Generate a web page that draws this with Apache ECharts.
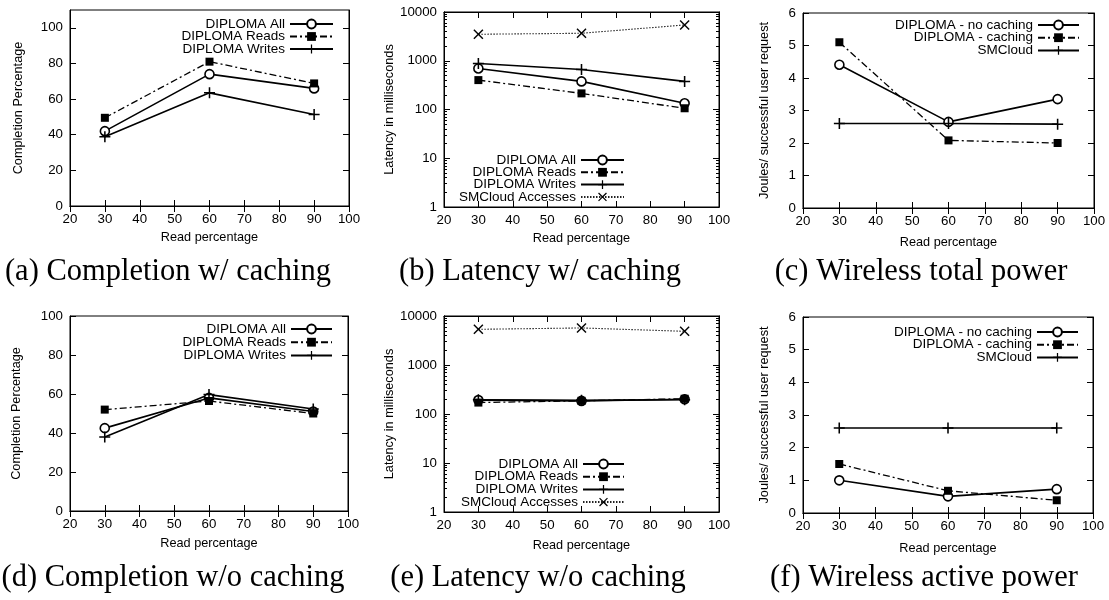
<!DOCTYPE html>
<html>
<head>
<meta charset="utf-8">
<script src="https://cdn.jsdelivr.net/npm/echarts@6/dist/echarts.min.js"></script>
<style>html,body{margin:0;padding:0;background:#fff}#c{width:1109px;height:600px}</style>
</head>
<body>
<div id="c"></div>
<script>
// ---- data ----
const readPct = [30, 60, 90];
const xTicks = [20, 30, 40, 50, 60, 70, 80, 90, 100];
const completionTicks = [0, 20, 40, 60, 80, 100];
const latencyTicks = [1, 10, 100, 1000, 10000];
const jouleTicks = [0, 1, 2, 3, 4, 5, 6];

// (a) Completion w/ caching
const aAll = [42, 74, 66];
const aReads = [49.5, 81, 68.8];
const aWrites = [38.9, 63.5, 51.4];
// (b) Latency w/ caching
const bAll = [695, 377, 134];
const bReads = [401, 214, 106];
const bWrites = [879, 662, 377];
const bSMCloud = [3494, 3664, 5420];
// (c) Wireless total power
const cNoCache = [4.41, 2.65, 3.35];
const cCache = [5.1, 2.08, 2.0];
const cSMCloud = [2.6, 2.6, 2.58];
// (d) Completion w/o caching
const dAll = [42.5, 58, 51];
const dReads = [52, 56.4, 50];
const dWrites = [38, 59.7, 52.3];
// (e) Latency w/o caching
const eAll = [192, 185, 200];
const eReads = [171, 186, 205];
const eWrites = [196, 190, 195];
const eSMCloud = [5350, 5700, 4870];
// (f) Wireless active power
const fNoCache = [1.0, 0.51, 0.73];
const fCache = [1.5, 0.68, 0.39];
const fSMCloud = [2.6, 2.6, 2.6];

const captions = ['(a) Completion w/ caching', '(b) Latency w/ caching', '(c) Wireless total power',
                  '(d) Completion w/o caching', '(e) Latency w/o caching', '(f) Wireless active power'];

// minor ticks for log axes (axis decoration)
const logMinor = [];
[1, 10, 100, 1000].forEach(d => { for (let k = 2; k <= 9; k++) logMinor.push(d * k); });

// ---- layout ----
const F = 'Liberation Sans, Arial, Helvetica, sans-serif';
const grids = [
  {left: 70, top: 10, width: 279, height: 196},
  {left: 444, top: 12, width: 275, height: 195},
  {left: 803, top: 13, width: 291, height: 195},
  {left: 70, top: 316, width: 278, height: 195},
  {left: 444, top: 316, width: 275, height: 196},
  {left: 803, top: 317, width: 290, height: 196}
];
const yNames = ['Completion Percentage', 'Latency in milliseconds', 'Joules/ successful user request',
                'Completion Percentage', 'Latency in milliseconds', 'Joules/ successful user request'];
const yGaps = [45, 36, 32, 47, 35, 32];
const xGaps = [25, 25, 28, 26, 27, 29];
const yKinds = ['comp', 'log', 'joule', 'comp', 'log', 'joule'];

const xAxes = [], yAxes = [], primaryY = [];
const lineC = '#000';
grids.forEach((g, i) => {
  xAxes.push({
    type: 'value', gridIndex: i, min: 20, max: 100, interval: 10, position: 'bottom',
    name: 'Read percentage', nameLocation: 'middle', nameGap: xGaps[i],
    nameTextStyle: {fontFamily: F, fontSize: 12.7, color: '#000'},
    axisLine: {show: true, lineStyle: {color: lineC, width: 1}},
    axisTick: {show: true, inside: true, length: 6, lineStyle: {color: lineC}},
    axisLabel: {show: true, margin: 7, fontFamily: F, fontSize: 13.3, color: '#000', customValues: xTicks},
    splitLine: {show: false}
  });
  xAxes.push({
    type: 'value', gridIndex: i, min: 20, max: 100, interval: 10, position: 'top',
    axisLine: {show: true, lineStyle: {color: lineC, width: 1}},
    axisTick: {show: true, inside: true, length: 6, lineStyle: {color: lineC}},
    axisLabel: {show: false}, splitLine: {show: false}
  });
  const k = yKinds[i];
  let base;
  if (k === 'comp') base = {type: 'value', min: 0, max: i === 0 ? 110 : 100, interval: 20, ticks: completionTicks};
  else if (k === 'joule') base = {type: 'value', min: 0, max: 6, interval: 1, ticks: jouleTicks};
  else base = {type: 'log', logBase: 10, min: 1, max: 10000, ticks: latencyTicks};
  const mkY = (pos, labels, tickVals, len) => {
    const ax = {
      type: base.type, gridIndex: i, min: base.min, max: base.max, position: pos,
      axisLine: {show: true, lineStyle: {color: lineC, width: 1}},
      axisTick: {show: true, inside: true, length: len, lineStyle: {color: lineC}, customValues: tickVals},
      axisLabel: labels ? {show: true, margin: 7, fontFamily: F, fontSize: 13.3, color: '#000',
                           customValues: base.ticks, formatter: v => String(Math.round(v))} : {show: false},
      splitLine: {show: false}
    };
    if (base.type === 'log') ax.logBase = 10; else ax.interval = base.interval;
    if (labels) {
      ax.name = yNames[i]; ax.nameLocation = 'middle'; ax.nameGap = yGaps[i];
      ax.nameTextStyle = {fontFamily: F, fontSize: 12.7, color: '#000'};
    }
    return ax;
  };
  primaryY.push(yAxes.length);
  yAxes.push(mkY('left', true, base.ticks, 6));
  yAxes.push(mkY('right', false, base.ticks, 6));
  if (k === 'log') {
    yAxes.push(mkY('left', false, logMinor, 3));
    yAxes.push(mkY('right', false, logMinor, 3));
  }
});

// ---- series styles ----
const PLUS = 'path://M4.3,0h1.4v10h-1.4z M0,4.3h10v1.4h-10z';
const CROSS = 'path://M0,1L1,0L5,4L9,0L10,1L6,5L10,9L9,10L5,6L1,10L0,9L4,5Z';
const styles = {
  circle: {symbol: 'circle', symbolSize: 9, lineStyle: {color: '#000', width: 1.6, type: 'solid'},
           itemStyle: {color: '#fff', borderColor: '#000', borderWidth: 1.6}},
  square: {symbol: 'rect', symbolSize: 8, lineStyle: {color: '#000', width: 1.3, type: [7, 3, 2, 3]},
           itemStyle: {color: '#000', borderColor: '#000', borderWidth: 0}},
  plus: {symbol: PLUS, symbolSize: 11, lineStyle: {color: '#000', width: 1.6, type: 'solid'},
         itemStyle: {color: '#000', borderWidth: 0}},
  cross: {symbol: CROSS, symbolSize: 10, lineStyle: {color: '#222', width: 1.1, type: [1.5, 1.5]},
          itemStyle: {color: '#000', borderWidth: 0}}
};
const series = [];
function add(name, gi, ys, st) {
  const s = styles[st];
  series.push({
    type: 'line', name: name, xAxisIndex: gi * 2, yAxisIndex: primaryY[gi],
    data: readPct.map((x, j) => [x, ys[j]]),
    symbol: s.symbol, symbolSize: s.symbolSize, showAllSymbol: true,
    lineStyle: s.lineStyle, itemStyle: s.itemStyle, emphasis: {disabled: true}, z: 3
  });
}
add('DIPLOMA All', 0, aAll, 'circle');
add('DIPLOMA Reads', 0, aReads, 'square');
add('DIPLOMA Writes', 0, aWrites, 'plus');
add('DIPLOMA All', 1, bAll, 'circle');
add('DIPLOMA Reads', 1, bReads, 'square');
add('DIPLOMA Writes', 1, bWrites, 'plus');
add('SMCloud Accesses', 1, bSMCloud, 'cross');
add('DIPLOMA - no caching', 2, cNoCache, 'circle');
add('DIPLOMA - caching', 2, cCache, 'square');
add('SMCloud', 2, cSMCloud, 'plus');
add('DIPLOMA All', 3, dAll, 'circle');
add('DIPLOMA Reads', 3, dReads, 'square');
add('DIPLOMA Writes', 3, dWrites, 'plus');
add('DIPLOMA All', 4, eAll, 'circle');
add('DIPLOMA Reads', 4, eReads, 'square');
add('DIPLOMA Writes', 4, eWrites, 'plus');
add('SMCloud Accesses', 4, eSMCloud, 'cross');
add('DIPLOMA - no caching', 5, fNoCache, 'circle');
add('DIPLOMA - caching', 5, fCache, 'square');
add('SMCloud', 5, fSMCloud, 'plus');

// ---- legends ----
const lg = (names, right, top, gap, w) => ({
  data: names, orient: 'vertical', align: 'right', right: right, top: top, padding: 0,
  itemWidth: w, itemHeight: 11, itemGap: gap, selectedMode: false,
  textStyle: {fontFamily: F, fontSize: 13.5, color: '#000', lineHeight: 12}
});
const L3 = ['DIPLOMA All', 'DIPLOMA Reads', 'DIPLOMA Writes'];
const L4 = ['DIPLOMA All', 'DIPLOMA Reads', 'DIPLOMA Writes', 'SMCloud Accesses'];
const LP = ['DIPLOMA - no caching', 'DIPLOMA - caching', 'SMCloud'];
const legends = [
  lg(L3, 775, 17, -1.5, 43), lg(L4, 484, 153, -1.7, 43), lg(LP, 29, 18, -1.3, 41),
  lg(L3, 776, 322, -0.8, 41), lg(L4, 484, 457, -1.3, 41), lg(LP, 30, 325, -1.3, 41)
];

// ---- captions ----
const capX = [168, 540, 921, 173, 538, 924];
const capTop = [257, 257, 257, 563, 563, 563];
const titles = captions.map((t, i) => ({
  text: t, left: capX[i], top: capTop[i], textAlign: 'center', padding: 0,
  textStyle: {fontFamily: 'Liberation Serif, Times New Roman, serif', fontSize: 30.5, fontWeight: 'normal', color: '#000', lineHeight: 30}
}));

const chart = echarts.init(document.getElementById('c'), null, {renderer: 'canvas'});
chart.setOption({
  backgroundColor: '#fff',
  animation: false,
  title: titles,
  legend: legends,
  grid: grids.map(g => Object.assign({show: true, borderColor: '#000', borderWidth: 1, containLabel: false, outerBoundsMode: 'none'}, g)),
  xAxis: xAxes,
  yAxis: yAxes,
  series: series
});
</script>
</body>
</html>
